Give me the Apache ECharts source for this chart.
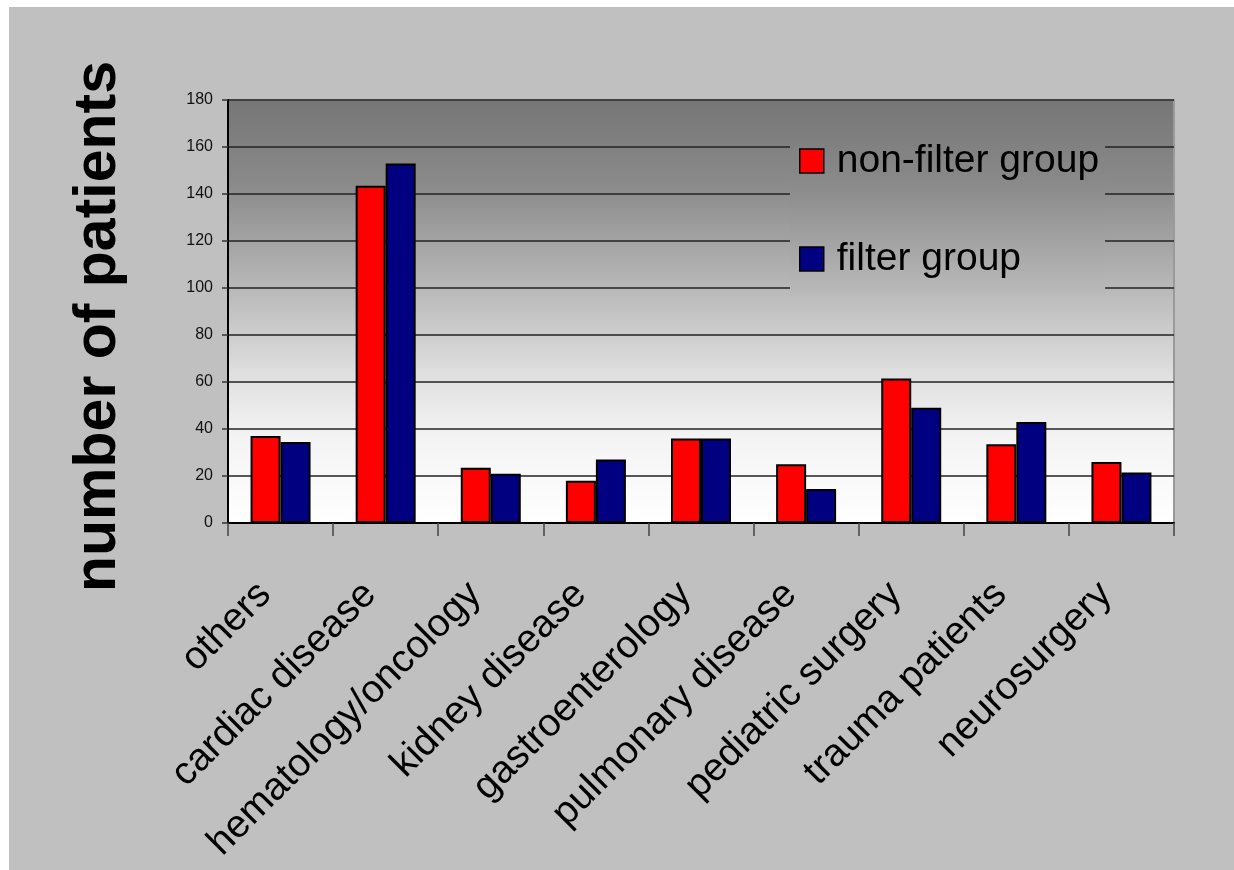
<!DOCTYPE html>
<html>
<head>
<meta charset="utf-8">
<title>number of patients</title>
<script src="https://cdn.jsdelivr.net/npm/echarts@6/dist/echarts.min.js"></script>
<style>
  html, body { margin: 0; padding: 0; background: #ffffff; }
  #chart { position: absolute; left: 9px; top: 7px; width: 1225px; height: 863px; }
</style>
</head>
<body>
<div id="chart"></div>
<script>
// Patient counts per primary diagnosis, split by study group
const categories = [
  'others', 'cardiac disease', 'hematology/oncology', 'kidney disease',
  'gastroenterology', 'pulmonary disease', 'pediatric surgery',
  'trauma patients', 'neurosurgery'
];
const nonFilterGroup = [37, 143.5, 23.5, 18, 36, 25, 61.5, 33.5, 26];
const filterGroup = [34.5, 153, 21, 27, 36, 14.5, 49, 43, 21.5];
const seriesNames = ['non-filter group', 'filter group'];
const yAxisTitle = 'number of patients';
const yMin = 0, yMax = 180, yStep = 20;

// Plot background: dark grey at the top fading to white at the bottom
const plotStops = [
  [0.00, 118], [0.20, 138], [0.45, 185], [0.65, 224], [0.80, 244], [1.00, 255]
];
function greyAt(t) {
  for (let i = 1; i < plotStops.length; i++) {
    const a = plotStops[i - 1], b = plotStops[i];
    if (t <= b[0]) {
      const k = (t - a[0]) / (b[0] - a[0]);
      return Math.round(a[1] + (b[1] - a[1]) * k);
    }
  }
  return 255;
}
function grey(v) { return 'rgb(' + v + ',' + v + ',' + v + ')'; }
const plotGradient = new echarts.graphic.LinearGradient(0, 0, 0, 1,
  plotStops.map(s => ({ offset: s[0], color: grey(s[1]) })));

// Legend box sits on the plot; its fill continues the plot gradient
const plotTop = 93, plotHeight = 423;
const legendTop = 118, legendHeight = 168;
function legendGradient() {
  const t0 = (legendTop - plotTop) / plotHeight;
  const t1 = (legendTop + legendHeight - plotTop) / plotHeight;
  const stops = [];
  for (let i = 0; i <= 10; i++) {
    const t = t0 + (t1 - t0) * i / 10;
    stops.push({ offset: i / 10, color: grey(greyAt(t)) });
  }
  return new echarts.graphic.LinearGradient(0, 0, 0, 1, stops);
}

const chart = echarts.init(document.getElementById('chart'), null, { renderer: 'canvas' });
const FONT = '"Liberation Sans", Arial, sans-serif';

chart.setOption({
  backgroundColor: '#c0c0c0',
  animation: false,
  textStyle: { fontFamily: FONT, color: '#000' },
  grid: {
    left: 219, top: plotTop, right: 60, bottom: 347,
    show: true,
    backgroundColor: plotGradient,
    borderColor: '#9a9a9a',
    borderWidth: 2
  },
  legend: {
    orient: 'vertical',
    left: 781,
    top: legendTop,
    data: seriesNames,
    itemWidth: 24,
    itemHeight: 24,
    itemGap: 58,
    padding: [16, 6, 16, 9],
    backgroundColor: legendGradient(),
    icon: 'rect',
    itemStyle: { borderColor: '#000', borderWidth: 1.5 },
    textStyle: { fontFamily: FONT, fontSize: 39, color: '#000', lineHeight: 40, padding: [0, 0, 0, 8] },
    selectedMode: false
  },
  xAxis: {
    type: 'category',
    data: categories,
    boundaryGap: true,
    axisLine: { show: true, lineStyle: { color: '#000', width: 2 } },
    axisTick: { show: true, length: 13, lineStyle: { color: '#444', width: 1.5 } },
    axisLabel: {
      interval: 0,
      rotate: 45,
      margin: 50,
      fontFamily: FONT,
      fontSize: 39,
      color: '#000',
      padding: [0, 22, 0, 0]
    },
    splitLine: { show: false }
  },
  yAxis: {
    type: 'value',
    min: yMin,
    max: yMax,
    interval: yStep,
    name: yAxisTitle,
    nameLocation: 'middle',
    nameRotate: 90,
    nameGap: 100,
    nameTextStyle: {
      fontFamily: FONT, fontSize: 59, fontWeight: 'bold', color: '#000',
      padding: [0, 30, 0, 0]
    },
    axisLine: { show: true, lineStyle: { color: '#000', width: 2 } },
    axisTick: { show: true, length: 6, lineStyle: { color: '#333', width: 1.5 } },
    axisLabel: { fontFamily: FONT, fontSize: 16, color: '#111', margin: 15 },
    splitLine: { show: true, lineStyle: { color: '#222', width: 1.5 } }
  },
  series: [
    {
      name: seriesNames[0],
      type: 'bar',
      data: nonFilterGroup,
      barWidth: 30,
      barGap: '0%',
      itemStyle: { color: '#ff0000', borderColor: '#000', borderWidth: 2 }
    },
    {
      name: seriesNames[1],
      type: 'bar',
      data: filterGroup,
      barWidth: 30,
      barGap: '0%',
      itemStyle: { color: '#000080', borderColor: '#000', borderWidth: 2 }
    }
  ]
});
</script>
</body>
</html>
